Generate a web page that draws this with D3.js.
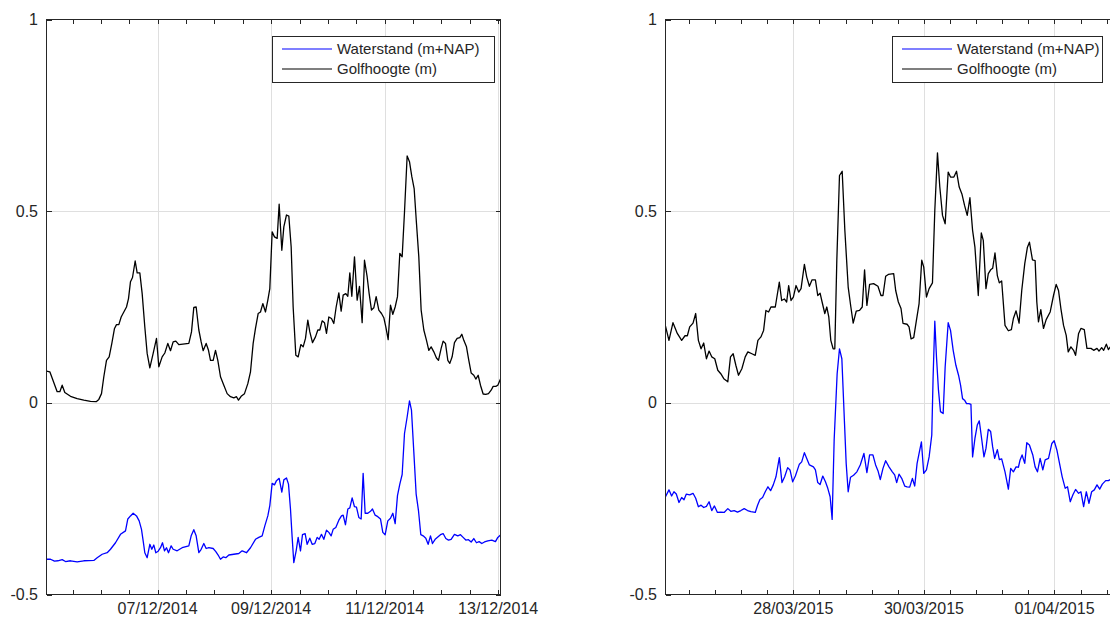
<!DOCTYPE html>
<html>
<head>
<meta charset="utf-8">
<script src="https://cdn.jsdelivr.net/npm/d3@7"></script>
<style>
  html, body { margin: 0; padding: 0; background: #fff; }
  svg { display: block; }
  text { font-family: "Liberation Sans", Arial, Helvetica, sans-serif; font-size: 15px; fill: #262626; }
  text.tick { font-size: 16px; }
</style>
</head>
<body>
<svg id="chart" width="1110" height="619"></svg>
<script>
// Golfhoogte (m) and Waterstand (m+NAP) for two storm periods.
// Each point: [hours after the series base time, value].

const decBase = new Date(2014, 11, 5, 1);   // 05/12/2014 01:00
const marBase = new Date(2015, 2, 26, 0);   // 26/03/2015 00:00

const golfDec = [[0,.083],[1.41,.081],[4.51,.029],[5.64,.029],[6.63,.046],[7.75,.027],[10.15,.017],[12.97,.011],[15.79,.007],[18.61,.004],[21.0,.003],[22.13,.009],[23.26,.024],[24.24,.068],[25.37,.111],[26.5,.12],[27.63,.155],[28.76,.194],[29.6,.204],[30.59,.204],[31.58,.224],[32.7,.237],[33.83,.25],[34.68,.272],[35.52,.316],[36.37,.327],[37.5,.37],[38.34,.339],[39.47,.339],[40.46,.285],[41.58,.198],[42.57,.129],[43.7,.091],[45.11,.129],[46.52,.168],[47.5,.094],[48.91,.12],[50.04,.13],[51.31,.155],[52.44,.136],[53.56,.159],[54.69,.161],[55.96,.152],[60.19,.155],[61.32,.185],[62.3,.249],[63.29,.25],[64.42,.19],[65.41,.159],[66.25,.136],[67.52,.155],[68.51,.137],[69.35,.111],[70.48,.111],[71.47,.137],[72.45,.111],[73.58,.068],[74.99,.046],[76.4,.024],[77.81,.016],[79.22,.013],[80.35,.016],[81.19,.007],[82.32,.017],[83.73,.024],[85.14,.05],[86.27,.081],[87.4,.155],[88.38,.194],[89.51,.233],[90.5,.237],[91.48,.259],[92.61,.237],[93.6,.268],[94.44,.298],[95.43,.446],[96.42,.433],[97.55,.429],[98.39,.518],[99.52,.398],[100.37,.459],[101.49,.49],[102.48,.487],[103.47,.407],[104.31,.25],[105.44,.124],[106.43,.12],[107.56,.152],[108.54,.146],[109.53,.168],[110.51,.216],[111.36,.185],[112.49,.157],[113.76,.172],[114.74,.19],[115.59,.19],[116.58,.214],[117.56,.209],[118.41,.181],[119.4,.224],[120.52,.22],[121.51,.207],[122.5,.25],[123.63,.287],[124.61,.239],[125.46,.281],[126.58,.285],[127.43,.278],[128.28,.339],[129.12,.278],[130.25,.381],[131.38,.268],[132.36,.304],[133.49,.209],[134.48,.372],[135.6,.329],[136.45,.285],[137.44,.242],[138.42,.248],[139.41,.277],[140.54,.242],[141.67,.233],[142.65,.222],[143.5,.198],[144.49,.165],[145.47,.255],[146.46,.231],[147.45,.25],[148.43,.277],[149.42,.39],[150.41,.381],[151.4,.498],[152.52,.644],[153.51,.629],[154.5,.59],[155.48,.559],[156.47,.468],[157.45,.381],[158.44,.242],[159.57,.19],[160.7,.163],[161.68,.137],[162.67,.146],[163.8,.133],[164.92,.117],[165.77,.111],[166.9,.142],[167.74,.161],[168.73,.155],[169.72,.111],[170.56,.103],[171.55,.12],[172.53,.157],[173.66,.168],[174.79,.17],[175.64,.179],[176.48,.163],[177.61,.146],[178.6,.111],[179.59,.078],[180.71,.072],[181.56,.062],[182.55,.072],[183.53,.046],[184.66,.023],[185.79,.022],[186.92,.024],[188.04,.033],[188.89,.043],[190.02,.043],[190.86,.046],[192,.062]];

const waterDec = [[0,-.408],[1.69,-.408],[3.38,-.413],[4.79,-.412],[6.63,-.409],[8.03,-.414],[10.15,-.412],[12.97,-.415],[15.79,-.412],[20.02,-.411],[21.43,-.404],[23.54,-.395],[25.66,-.391],[27.06,-.382],[29.18,-.365],[31.29,-.343],[33.41,-.334],[34.39,-.303],[35.52,-.295],[36.65,-.288],[38.06,-.295],[39.19,-.308],[40.17,-.33],[40.88,-.36],[41.58,-.391],[42.57,-.404],[43.7,-.369],[44.54,-.382],[45.39,-.371],[46.24,-.391],[47.22,-.387],[48.21,-.378],[49.05,-.365],[49.9,-.386],[50.75,-.378],[51.59,-.391],[52.72,-.373],[53.56,-.382],[55.26,-.386],[57.37,-.378],[60.19,-.373],[61.18,-.347],[62.3,-.331],[63.29,-.347],[64.42,-.391],[65.41,-.382],[66.53,-.367],[67.52,-.38],[68.65,-.378],[70.48,-.38],[71.61,-.388],[72.59,-.397],[73.58,-.408],[74.71,-.402],[75.84,-.404],[77.11,-.397],[79.22,-.395],[81.33,-.393],[82.74,-.386],[84.57,-.391],[86.27,-.378],[88.38,-.356],[89.79,-.351],[91.2,-.347],[92.33,-.321],[93.6,-.295],[94.44,-.268],[95.43,-.21],[96.42,-.214],[97.26,-.203],[98.39,-.197],[99.52,-.233],[100.37,-.201],[101.49,-.196],[102.34,-.212],[103.18,-.277],[103.89,-.351],[104.59,-.417],[105.58,-.386],[106.43,-.351],[107.41,-.386],[108.26,-.344],[109.38,-.341],[110.23,-.369],[111.36,-.353],[112.35,-.369],[113.47,-.367],[114.46,-.351],[115.3,-.356],[116.29,-.343],[117.28,-.356],[118.41,-.332],[119.4,-.338],[120.38,-.347],[121.23,-.33],[122.35,-.325],[123.63,-.306],[124.75,-.295],[125.46,-.293],[126.44,-.318],[127.43,-.277],[128.28,-.274],[129.26,-.248],[130.25,-.271],[131.09,-.272],[132.08,-.299],[133.07,-.303],[133.91,-.184],[134.76,-.288],[135.89,-.288],[137.01,-.283],[137.86,-.277],[138.99,-.293],[140.11,-.297],[141.24,-.303],[142.23,-.338],[143.22,-.344],[144.34,-.308],[145.47,-.301],[146.46,-.288],[147.45,-.315],[148.43,-.242],[149.42,-.212],[150.41,-.187],[151.4,-.08],[152.52,-.037],[153.51,.005],[154.35,-.019],[155.34,-.128],[156.33,-.238],[157.31,-.281],[158.3,-.344],[159.29,-.347],[160.41,-.353],[161.4,-.369],[162.39,-.347],[163.23,-.367],[164.36,-.356],[165.49,-.35],[166.61,-.344],[167.74,-.341],[168.87,-.354],[170.0,-.358],[171.12,-.356],[172.53,-.343],[173.94,-.347],[175.07,-.344],[176.2,-.351],[177.33,-.358],[178.46,-.357],[179.59,-.363],[180.71,-.354],[181.84,-.365],[182.97,-.362],[184.09,-.367],[185.22,-.363],[186.63,-.36],[188.32,-.358],[189.87,-.362],[190.86,-.351],[192,-.345]];

const golfMar = [[1,.2],[2.27,.163],[3.75,.209],[5.34,.181],[6.94,.163],[8.17,.175],[9.03,.175],[9.89,.198],[11.12,.208],[12.1,.233],[13.09,.163],[14.07,.141],[15.05,.156],[16.04,.115],[17.02,.135],[18.0,.12],[19.11,.115],[20.22,.085],[21.32,.076],[22.43,.063],[23.91,.055],[24.89,.12],[25.87,.128],[26.86,.098],[27.84,.072],[29.07,.089],[30.3,.12],[31.28,.133],[32.76,.128],[33.99,.124],[34.97,.163],[36.08,.172],[37.06,.189],[37.92,.241],[38.9,.237],[39.76,.25],[41.36,.25],[42.84,.315],[43.7,.267],[44.68,.271],[45.54,.263],[46.28,.306],[47.14,.267],[48.0,.276],[48.98,.306],[49.97,.289],[50.83,.298],[52.06,.361],[52.92,.328],[53.9,.304],[54.88,.321],[56.11,.321],[56.97,.28],[57.83,.286],[58.57,.263],[59.56,.233],[60.29,.25],[61.03,.224],[61.77,.163],[62.63,.141],[63.24,.141],[63.98,.372],[64.96,.593],[65.95,.604],[66.93,.45],[68.16,.302],[69.14,.25],[70.0,.208],[71.11,.239],[72.34,.241],[73.32,.25],[74.18,.347],[75.04,.254],[76.03,.309],[77.5,.311],[79.1,.304],[80.21,.28],[80.95,.28],[81.93,.33],[82.91,.335],[84.88,.337],[85.62,.293],[86.6,.263],[87.58,.246],[88.32,.207],[89.8,.205],[90.53,.198],[91.27,.167],[92.25,.17],[93.24,.215],[94.22,.259],[95.2,.372],[95.94,.354],[96.93,.276],[97.91,.298],[99.14,.313],[100.0,.502],[100.98,.652],[101.84,.563],[102.83,.489],[103.81,.467],[104.92,.602],[105.78,.589],[107.01,.589],[107.99,.604],[108.97,.563],[109.96,.545],[110.94,.515],[111.92,.489],[112.91,.535],[113.89,.45],[114.75,.406],[115.98,.28],[117.09,.443],[117.82,.424],[118.81,.298],[119.67,.337],[120.53,.347],[121.27,.351],[122.13,.391],[122.99,.332],[123.72,.313],[124.58,.318],[125.81,.202],[127.04,.188],[128.15,.191],[128.89,.22],[129.87,.24],[130.98,.208],[131.96,.293],[133.07,.363],[134.05,.406],[134.79,.419],[135.9,.373],[136.88,.371],[137.5,.263],[138.11,.211],[138.97,.243],[139.95,.194],[140.94,.217],[142.41,.237],[143.64,.28],[144.62,.309],[145.48,.293],[146.35,.246],[147.33,.202],[148.31,.176],[149.05,.133],[150.03,.146],[151.02,.137],[151.75,.124],[152.86,.181],[153.72,.194],[154.95,.191],[155.93,.142],[157.41,.142],[158.4,.137],[159.62,.142],[160.36,.135],[161.34,.144],[162.08,.137],[163.06,.153],[163.8,.139],[164.54,.146],[169,.145]];

const waterMar = [[1,-.245],[2.27,-.227],[3.25,-.243],[4.11,-.232],[4.97,-.238],[5.96,-.26],[6.94,-.247],[7.8,-.253],[8.66,-.238],[9.89,-.24],[11.12,-.236],[12.1,-.249],[13.09,-.271],[14.07,-.267],[15.05,-.273],[16.04,-.27],[17.02,-.258],[18.0,-.281],[18.99,-.269],[20.09,-.286],[21.32,-.285],[22.55,-.286],[23.91,-.276],[25.01,-.283],[26.24,-.281],[27.47,-.285],[28.7,-.281],[29.93,-.276],[31.16,-.281],[32.39,-.284],[33.99,-.286],[34.85,-.267],[35.71,-.252],[36.69,-.247],[37.67,-.232],[38.66,-.219],[39.64,-.229],[40.62,-.214],[41.61,-.193],[42.84,-.143],[43.82,-.208],[44.8,-.193],[45.91,-.169],[46.77,-.175],[47.75,-.206],[48.74,-.191],[50.21,-.16],[51.07,-.154],[52.06,-.13],[52.92,-.145],[53.9,-.162],[55.38,-.167],[56.11,-.175],[56.97,-.208],[57.83,-.213],[58.82,-.191],[59.8,-.206],[60.66,-.223],[61.52,-.245],[62.26,-.304],[63.0,-.097],[64.1,.076],[64.96,.141],[65.83,.115],[66.81,-.054],[67.42,-.158],[68.16,-.232],[69.02,-.194],[70.13,-.189],[71.36,-.18],[72.59,-.162],[73.94,-.132],[75.04,-.182],[76.03,-.136],[77.26,-.136],[78.24,-.162],[79.1,-.177],[79.96,-.2],[80.95,-.171],[81.93,-.151],[83.16,-.167],[84.39,-.18],[85.25,-.188],[85.99,-.208],[86.85,-.186],[87.83,-.197],[88.94,-.217],[89.8,-.219],[90.78,-.22],[91.76,-.197],[92.62,-.217],[93.49,-.158],[94.22,-.132],[95.08,-.102],[95.94,-.184],[96.93,-.175],[97.91,-.141],[98.89,-.084],[99.38,.068],[100.0,.213],[100.61,.12],[101.35,.033],[102.09,-.023],[103.07,-.028],[103.81,.094],[104.92,.209],[105.78,.189],[106.76,.137],[107.75,.098],[108.73,.072],[109.47,.046],[110.2,.011],[110.94,.007],[111.68,-.002],[112.54,-.002],[113.28,-.004],[113.89,-.141],[114.75,-.093],[115.61,-.058],[116.35,-.047],[117.21,-.093],[118.07,-.141],[118.81,-.119],[119.67,-.069],[120.53,-.075],[121.27,-.115],[122.0,-.145],[122.99,-.122],[123.72,-.148],[124.58,-.146],[125.81,-.18],[127.04,-.225],[127.9,-.171],[128.89,-.18],[129.87,-.167],[130.73,-.168],[131.35,-.149],[132.09,-.136],[133.07,-.158],[133.81,-.104],[134.79,-.11],[136.02,-.136],[136.88,-.167],[137.74,-.18],[138.72,-.145],[139.71,-.175],[140.57,-.149],[141.8,-.145],[143.03,-.106],[143.88,-.099],[144.87,-.123],[145.85,-.158],[146.83,-.193],[147.94,-.223],[148.8,-.219],[149.79,-.258],[150.77,-.24],[151.75,-.226],[152.86,-.236],[153.72,-.232],[154.71,-.271],[155.69,-.232],[156.67,-.262],[157.66,-.232],[158.64,-.227],[159.62,-.214],[160.61,-.225],[161.59,-.212],[162.82,-.203],[163.8,-.203],[164.54,-.2],[169,-.19]];

// Date tick labels and value ticks
const decTickLabels = ["07/12/2014", "09/12/2014", "11/12/2014", "13/12/2014"];
const marTickLabels = ["28/03/2015", "30/03/2015", "01/04/2015"];
const yTickValues = [-0.5, 0, 0.5, 1];
const yTickLabels = ["-0.5", "0", "0.5", "1"];
const seriesNames = ["Waterstand (m+NAP)", "Golfhoogte (m)"];
const seriesColors = ["#0000ff", "#000000"];

const HOUR = 3600e3;
const parseDay = d3.timeParse("%d/%m/%Y");
const axisColor = "#262626";
const gridColor = "#dfdfdf";

const svg = d3.select("#chart");

const panels = [
  {
    id: "dec", left: 46.5, right: 500.5,
    domain: [new Date(2014, 11, 5, 1), new Date(2014, 11, 13, 1)],
    base: decBase, water: waterDec, golf: golfDec,
    ticks: decTickLabels, minorHours: 12,
    legend: { x: 272.5, w: 222 }
  },
  {
    id: "mar", left: 665.5, right: 1122.5,
    domain: [new Date(2015, 2, 26, 1), new Date(2015, 3, 2, 1)],
    base: marBase, water: waterMar, golf: golfMar,
    ticks: marTickLabels, minorHours: 9.6,
    legend: { x: 892.5, w: 210 }
  }
];

const plotTop = 19.5, plotBottom = 594.5;
const y = d3.scaleLinear().domain([-0.5, 1]).range([plotBottom, plotTop]);

panels.forEach(p => {
  const x = d3.scaleTime().domain(p.domain).range([p.left, p.right]);
  const g = svg.append("g");

  g.append("clipPath").attr("id", "clip-" + p.id)
    .append("rect").attr("x", p.left).attr("y", plotTop)
    .attr("width", p.right - p.left).attr("height", plotBottom - plotTop);

  const majors = p.ticks.map(parseDay);

  // grid
  g.append("g").selectAll("line").data(majors).join("line")
    .attr("x1", d => Math.round(x(d)) + 0.5).attr("x2", d => Math.round(x(d)) + 0.5)
    .attr("y1", plotTop).attr("y2", plotBottom)
    .attr("stroke", gridColor).attr("stroke-width", 1);
  g.append("g").selectAll("line").data(yTickValues.slice(1, 3)).join("line")
    .attr("x1", p.left).attr("x2", p.right)
    .attr("y1", d => Math.round(y(d)) + 0.5).attr("y2", d => Math.round(y(d)) + 0.5)
    .attr("stroke", gridColor).attr("stroke-width", 1);

  // series
  const line = d3.line()
    .x(d => x(new Date(+p.base + d[0] * HOUR)))
    .y(d => y(d[1]));
  const lines = g.append("g").attr("clip-path", "url(#clip-" + p.id + ")");
  [p.water, p.golf].forEach((s, i) => {
    lines.append("path").datum(s)
      .attr("d", line)
      .attr("fill", "none")
      .attr("stroke", seriesColors[i])
      .attr("stroke-width", 1.3)
      .attr("stroke-linejoin", "round");
  });

  // minor ticks, stepping out from the first labelled date
  const minors = [];
  const t0 = +majors[0];
  for (let k = -40; k <= 40; k++) {
    const t = t0 + k * p.minorHours * HOUR;
    if (t > +p.domain[0] && t < +p.domain[1]) minors.push(new Date(t));
  }

  const ax = g.append("g").attr("shape-rendering", "crispEdges");
  // box
  ax.append("rect")
    .attr("x", p.left).attr("y", plotTop)
    .attr("width", p.right - p.left).attr("height", plotBottom - plotTop)
    .attr("fill", "none").attr("stroke", axisColor).attr("stroke-width", 1);

  // x ticks on bottom and top, pointing inward
  ax.append("g").selectAll("line").data(minors).join("line")
    .attr("x1", d => Math.round(x(d)) + 0.5).attr("x2", d => Math.round(x(d)) + 0.5)
    .attr("y1", plotBottom).attr("y2", plotBottom - 4.5)
    .attr("stroke", axisColor);
  ax.append("g").selectAll("line").data(minors).join("line")
    .attr("x1", d => Math.round(x(d)) + 0.5).attr("x2", d => Math.round(x(d)) + 0.5)
    .attr("y1", plotTop).attr("y2", plotTop + 4.5)
    .attr("stroke", axisColor);

  // y ticks on both sides
  yTickValues.forEach(v => {
    const yy = Math.round(y(v)) + 0.5;
    ax.append("line").attr("x1", p.left).attr("x2", p.left + 5)
      .attr("y1", yy).attr("y2", yy).attr("stroke", axisColor);
    ax.append("line").attr("x1", p.right - 5).attr("x2", p.right)
      .attr("y1", yy).attr("y2", yy).attr("stroke", axisColor);
  });

  // x tick labels
  g.append("g").selectAll("text").data(majors).join("text")
    .attr("class", "tick")
    .attr("x", d => x(d)).attr("y", 614)
    .attr("text-anchor", "middle")
    .text((d, i) => p.ticks[i]);

  // y tick labels
  g.append("g").selectAll("text").data(yTickValues).join("text")
    .attr("class", "tick")
    .attr("x", p.left - 8.5).attr("y", d => y(d))
    .attr("dy", "0.35em")
    .attr("text-anchor", "end")
    .text((d, i) => yTickLabels[i]);

  // legend
  const lg = g.append("g");
  const ly = 36, lh = 46;
  lg.append("rect")
    .attr("x", p.legend.x).attr("y", ly + 0.5)
    .attr("width", p.legend.w).attr("height", lh)
    .attr("fill", "#fff").attr("stroke", axisColor).attr("stroke-width", 1)
    .attr("shape-rendering", "crispEdges");
  seriesNames.forEach((name, i) => {
    const cy = 49 + i * 20;
    lg.append("line")
      .attr("x1", p.legend.x + 9.5).attr("x2", p.legend.x + 59.5)
      .attr("y1", cy).attr("y2", cy)
      .attr("stroke", seriesColors[i]).attr("stroke-width", 1.2);
    lg.append("text")
      .attr("x", p.legend.x + 64.5).attr("y", cy)
      .attr("dy", "0.35em")
      .text(name);
  });
});
</script>
</body>
</html>
